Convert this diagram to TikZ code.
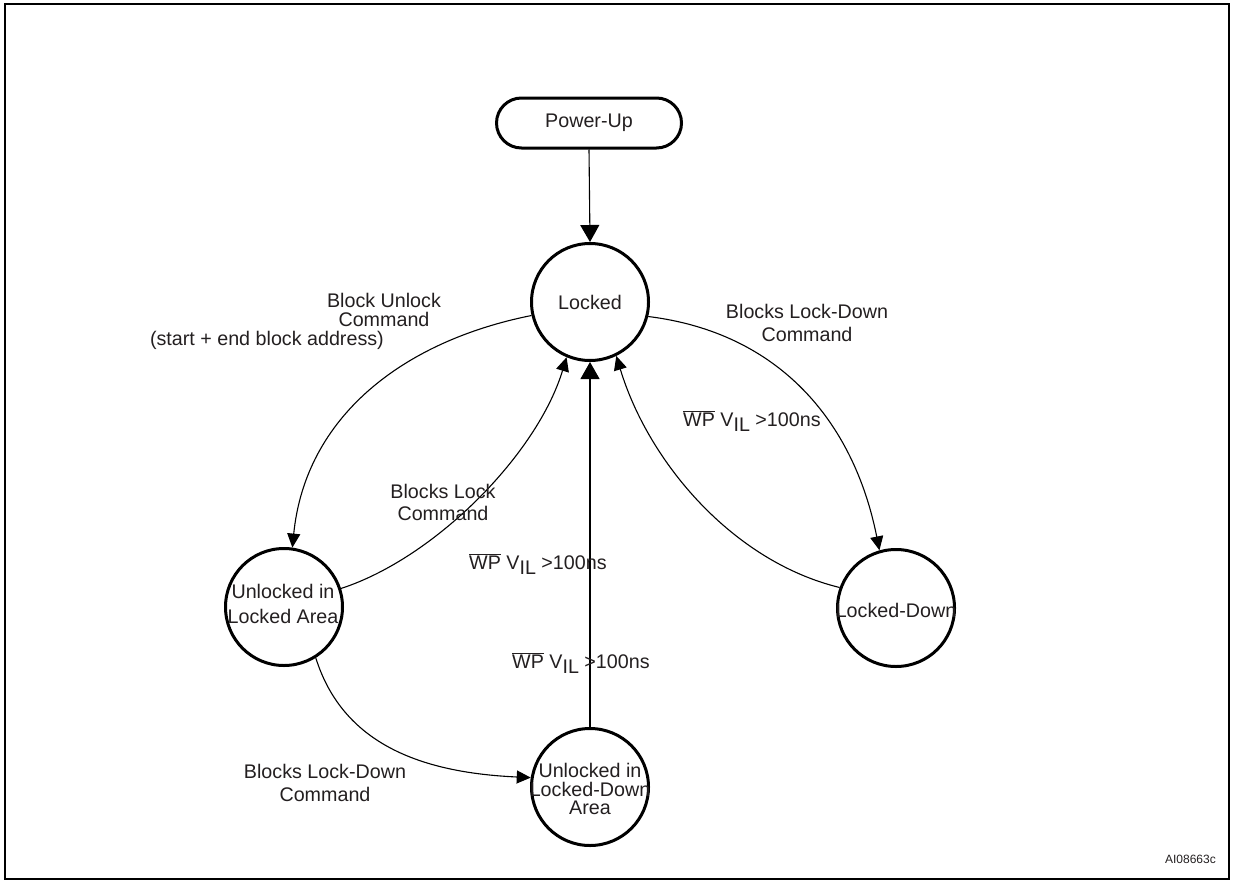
\documentclass[tikz,border=0pt]{standalone}
\usepackage{fontspec}
\setmainfont{Liberation Sans}
\usetikzlibrary{arrows.meta}
\definecolor{txtc}{HTML}{231F20}
\newcommand\fs{\fontsize{19.7}{23}\selectfont}
\newcommand\wpv{$\overline{\mbox{WP}}$ V\raisebox{-0.3em}{IL} {>}100ns}
\tikzset{
  state/.style={circle, draw, line width=3pt, minimum size=117pt, inner sep=0pt},
  txt/.style={font=\fs, text=txtc, align=center, inner sep=0pt},
  conn/.style={line width=1.1pt, -{Triangle[length=14pt,width=13pt]}},
  bigconn/.style={line width=1.1pt, -{Triangle[length=17pt,width=19pt]}},
}
\begin{document}
\begin{tikzpicture}[x=1pt,y=-1pt]
\useasboundingbox (0,0) rectangle (1233,883);
\draw[line width=2pt] (5,4) rectangle (1229,879);

% nodes
\node[draw, line width=3pt, rounded corners=25pt, minimum width=185pt, minimum height=50pt, inner sep=0pt] (pu) at (589,123) {};
\node[txt] (put) at (pu) {Power-Up};
\node[state] (lk) at (590,302) {};
\node[txt] (lkt) at (lk) {Locked};
\node[state] (ul) at (284,607) {};
\node[txt, font=\fontsize{19.7}{24.5}\selectfont] (ult) at (283,604) {Unlocked in\\Locked Area};
\node[state] (ld) at (896,608) {};
\node[txt] (ldt) at (896,610) {Locked-Down};
\node[state] (bt) at (590,787) {};
\node[txt, font=\fontsize{19.7}{18.7}\selectfont] (btt) at (590,789) {Unlocked in\\Locked-Down\\Area};

% connectors
\draw[bigconn] (pu.south) -- (lk.north);
\draw[bigconn] (bt.north) -- (lk.south);
\draw[conn] (lk.193) .. controls +(-130,26) and +(13,-130) .. (ul.82);
\draw[conn] (ul.18) .. controls +(95,-31) and +(-29,96) .. (lk.247);
\draw[conn] (lk.346) .. controls +(130,16) and +(-26,-130) .. (ld.106);
\draw[conn] (ld.160) .. controls +(-107,-26) and +(32,106) .. (lk.296);
\draw[conn] (ul.302) .. controls +(27,86) and +(-110,-5) .. (bt.171);

% labels
\node[txt, font=\fontsize{19.7}{19.5}\selectfont] (l1) at (384,310) {Block Unlock\\Command};
\node[txt, anchor=east] (l1b) at (384,340) {(start + end block address)};
\node[txt, font=\fontsize{19.7}{22}\selectfont] (l2) at (443,502) {Blocks Lock\\Command};
\node[txt, anchor=base west] (l3) at (469,569) {\wpv};
\node[txt, anchor=base west] (l4) at (512,668) {\wpv};
\node[txt, anchor=base west] (l5) at (683,426) {\wpv};
\node[txt] (l6) at (807,323) {Blocks Lock-Down\\Command};
\node[txt] (l7) at (325,783) {Blocks Lock-Down\\Command};
\node[txt, font=\fontsize{12}{14}\selectfont, anchor=base east] (id) at (1216,863) {AI08663c};
\end{tikzpicture}
\end{document}
